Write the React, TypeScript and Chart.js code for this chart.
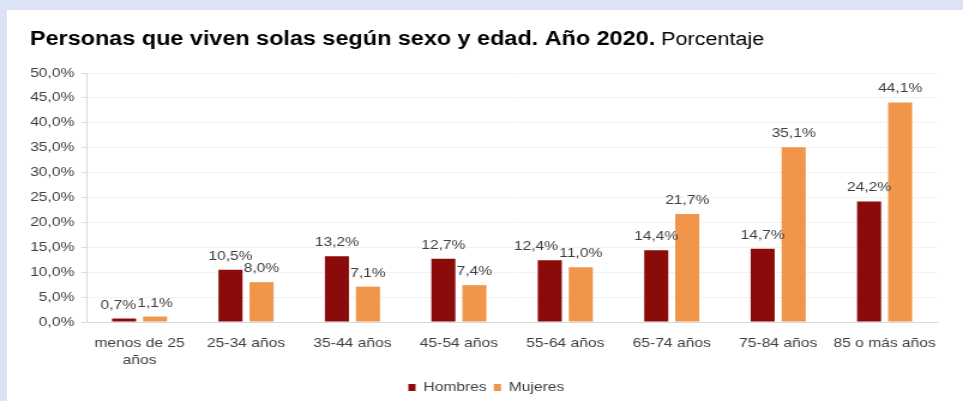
import React, { useEffect, useRef } from 'react';
import { Chart, registerables } from 'chart.js';

Chart.register(...registerables);

const categories: (string | string[])[] = [
  ['menos de 25', 'años'],
  '25-34 años',
  '35-44 años',
  '45-54 años',
  '55-64 años',
  '65-74 años',
  '75-84 años',
  '85 o más años',
];
const hombres = [0.7, 10.5, 13.2, 12.7, 12.4, 14.4, 14.7, 24.2];
const mujeres = [1.1, 8.0, 7.1, 7.4, 11.0, 21.7, 35.1, 44.1];
const seriesNames = ['Hombres', 'Mujeres'];
const yMax = 50;
const yStep = 5;
const titleBold = 'Personas que viven solas según sexo y edad. Año 2020.';
const titleNormal = 'Porcentaje';

const FONT = '"Liberation Sans", Arial, Helvetica, sans-serif';
const fmt = (v: number) => v.toFixed(1).replace('.', ',') + '%';

const titlePlugin = {
  id: 'mixedTitle',
  afterDraw(chart: any) {
    const ctx = chart.ctx;
    ctx.save();
    ctx.fillStyle = '#000000';
    ctx.textBaseline = 'alphabetic';
    ctx.textAlign = 'left';
    ctx.font = `bold 19.5px ${FONT}`;
    const x = 25;
    const y = 45;
    ctx.fillText(titleBold, x, y);
    const w = ctx.measureText(titleBold).width;
    ctx.font = `18px ${FONT}`;
    const sp = ctx.measureText(' ').width;
    ctx.fillText(titleNormal, x + w + sp, y);
    ctx.restore();
  },
};

// value labels above bars; the first series' label is nudged left when it would collide
const valueLabels = {
  id: 'valueLabels',
  afterDatasetsDraw(chart: any) {
    const ctx = chart.ctx;
    ctx.save();
    ctx.font = `13px ${FONT}`;
    ctx.fillStyle = '#404040';
    ctx.textAlign = 'center';
    ctx.textBaseline = 'alphabetic';
    const m0 = chart.getDatasetMeta(0);
    const m1 = chart.getDatasetMeta(1);
    const d0 = chart.data.datasets[0].data as number[];
    const d1 = chart.data.datasets[1].data as number[];
    m0.data.forEach((el0: any, j: number) => {
      const el1 = m1.data[j];
      const t0 = fmt(d0[j]);
      const t1 = fmt(d1[j]);
      const w0 = ctx.measureText(t0).width;
      const w1 = ctx.measureText(t1).width;
      let x0 = el0.x;
      const y0 = el0.y - 10;
      const y1 = el1.y - 10;
      if (Math.abs(y0 - y1) < 12) {
        const overlap = (x0 + w0 / 2) - (el1.x - w1 / 2) + 1;
        if (overlap > 0) x0 -= overlap;
      }
      ctx.fillText(t0, x0, y0);
      ctx.fillText(t1, el1.x, y1);
    });
    ctx.restore();
  },
};

export default function App() {
  const ref = useRef<HTMLCanvasElement>(null);

  useEffect(() => {
    if (!ref.current) return;
    const chart = new Chart(ref.current, {
      type: 'bar',
      data: {
        labels: categories as any,
        datasets: [
          {
            label: seriesNames[0],
            data: hombres,
            backgroundColor: '#8B0A0A',
            borderWidth: 0,
            barPercentage: 0.775,
            categoryPercentage: 0.583,
          },
          {
            label: seriesNames[1],
            data: mujeres,
            backgroundColor: '#F0954A',
            borderWidth: 0,
            barPercentage: 0.775,
            categoryPercentage: 0.583,
          },
        ],
      },
      options: {
        responsive: false,
        animation: false,
        devicePixelRatio: 1,
        layout: { padding: { top: 73, left: 8, right: 0, bottom: -3 } },
        plugins: {
          title: { display: false },
          tooltip: { enabled: false },
          legend: {
            position: 'bottom',
            labels: {
              boxWidth: 6,
              boxHeight: 7,
              padding: 6,
              color: '#404040',
              font: { size: 13, family: FONT },
            },
          },
        },
        scales: {
          x: {
            afterFit(scale: any) {
              scale.height = 53;
            },
            grid: { display: false },
            border: { display: true, color: '#d9d9d9', width: 1 },
            ticks: {
              color: '#404040',
              font: { size: 13, family: FONT, lineHeight: 1.3 },
              maxRotation: 0,
              autoSkip: false,
              padding: 5,
            },
          },
          y: {
            min: 0,
            max: yMax,
            afterFit(scale: any) {
              scale.width = 64;
            },
            grid: {
              color: '#f2f2f2',
              tickColor: '#d9d9d9',
              tickLength: 4,
            },
            border: { display: true, color: '#d9d9d9', width: 1 },
            ticks: {
              stepSize: yStep,
              color: '#404040',
              padding: 6,
              font: { size: 13, family: FONT },
              callback: (v: any) => fmt(Number(v)),
            },
          },
          yRight: {
            position: 'right',
            display: true,
            afterFit(scale: any) {
              scale.width = 21;
            },
            grid: { display: false },
            border: { display: false },
            ticks: { display: false },
          },
        },
      },
      plugins: [titlePlugin, valueLabels],
    });
    return () => chart.destroy();
  }, []);

  return (
    <div style={{ position: 'absolute', left: 0, top: 0, width: 963, height: 401, background: '#dce3f4', overflow: 'hidden' }}>
      <div style={{ position: 'absolute', left: 7, top: 10, right: 0, bottom: 0, background: '#ffffff' }} />
      <canvas
        ref={ref}
        width={803}
        height={401}
        style={{ position: 'absolute', left: 0, top: 0, width: '963px', height: '401px' }}
      />
    </div>
  );
}
